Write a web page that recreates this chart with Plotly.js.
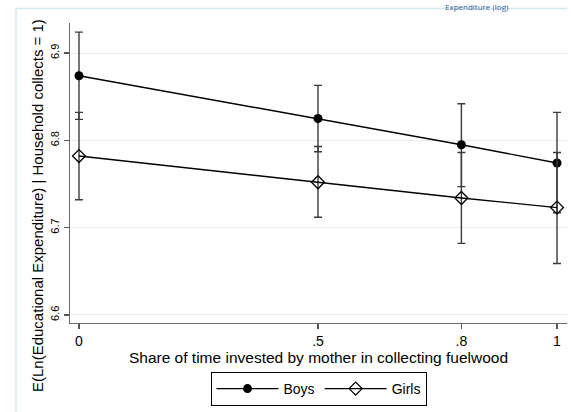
<!DOCTYPE html>
<html>
<head>
<meta charset="utf-8">
<script src="https://cdn.plot.ly/plotly-3.0.1.min.js"></script>
<style>html,body{margin:0;padding:0;background:#fff;}#chart{width:571px;height:412px;}</style>
</head>
<body>
<div id="chart"></div>
<script>
// Data
var shares = [0, 0.5, 0.8, 1];
var xTickLabels = ["0", ".5", ".8", "1"];
var yTickVals = [6.6, 6.7, 6.8, 6.9];
var yTickLabels = ["6.6", "6.7", "6.8", "6.9"];

var boysMean  = [6.874, 6.825, 6.795, 6.774];
var boysLower = [6.824, 6.787, 6.747, 6.717];
var boysUpper = [6.924, 6.863, 6.842, 6.832];

var girlsMean  = [6.782, 6.752, 6.734, 6.723];
var girlsLower = [6.732, 6.712, 6.682, 6.659];
var girlsUpper = [6.832, 6.793, 6.786, 6.786];

var seriesNames = ["Boys", "Girls"];
var yTitle = "E(Ln(Educational Expenditure) | Household collects = 1)";
var xTitle = "Share of time invested by mother in collecting fuelwood";
var topText = "Expenditure (log)";

function diff(a, b) { return a.map(function (v, i) { return v - b[i]; }); }

var FONT = "Liberation Sans, Arial, sans-serif";
var errStyle = {color: "#3a3a3a", thickness: 1.4, width: 4};

var traces = [
  {
    x: shares, y: boysMean, name: seriesNames[0], type: "scatter", mode: "lines+markers",
    line: {color: "#000", width: 1.4},
    marker: {symbol: "circle", size: 9, color: "#000"},
    error_y: Object.assign({type: "data", symmetric: false,
      array: diff(boysUpper, boysMean), arrayminus: diff(boysMean, boysLower)}, errStyle)
  },
  {
    x: shares, y: girlsMean, name: seriesNames[1], type: "scatter", mode: "lines+markers",
    line: {color: "#000", width: 1.4},
    marker: {symbol: "diamond-open", size: 10, color: "#000", line: {width: 1.3, color: "#000"}},
    error_y: Object.assign({type: "data", symmetric: false,
      array: diff(girlsUpper, girlsMean), arrayminus: diff(girlsMean, girlsLower)}, errStyle)
  }
];

var L = 70, R = 4, T = 23, B = 89, W = 571, H = 412;
var pw = W - L - R, ph = H - T - B;
function px2x(p) { return (p - L) / pw; }
function py2y(p) { return (H - B - p) / ph; }

var layout = {
  width: W, height: H,
  margin: {l: L, r: R, t: T, b: B, pad: 0},
  paper_bgcolor: "#fff", plot_bgcolor: "#fff",
  font: {family: FONT, color: "#000", size: 14},
  showlegend: true,
  xaxis: {
    range: [-0.0188, 1.0209],
    tickvals: shares, ticktext: xTickLabels,
    ticks: "outside", ticklen: 5, tickwidth: 1.2, tickcolor: "#555",
    showline: true, linecolor: "#6a6a6a", linewidth: 1.3,
    showgrid: false, zeroline: false,
    tickfont: {size: 14, family: FONT},
    title: {text: xTitle, font: {size: 15.5, family: FONT}, standoff: 1},
    automargin: false
  },
  yaxis: {
    range: [6.5908, 6.9344],
    tickvals: yTickVals, ticktext: yTickLabels,
    tickangle: -90,
    ticks: "outside", ticklen: 5, tickwidth: 1.2, tickcolor: "#555",
    showline: true, linecolor: "#6a6a6a", linewidth: 1.3,
    showgrid: true, gridcolor: "#e2edf3", gridwidth: 1,
    zeroline: false,
    tickfont: {size: 11, family: FONT},
    automargin: false
  },
  legend: {
    orientation: "h", x: 0.5, xanchor: "center", y: py2y(372), yanchor: "top",
    bordercolor: "#000", borderwidth: 1, bgcolor: "#fff",
    font: {size: 14, family: FONT}, itemwidth: 62, tracegroupgap: 0
  },
  annotations: [
    {text: yTitle, xref: "paper", yref: "paper", x: px2x(37), y: py2y(206),
     xanchor: "center", yanchor: "middle", textangle: -90, showarrow: false,
     font: {size: 15, family: FONT, color: "#000"}},
    {text: topText, xref: "paper", yref: "paper", x: px2x(510), y: py2y(0),
     xanchor: "right", yanchor: "top", showarrow: false, borderpad: 0,
     font: {size: 8, family: "Open Sans, sans-serif", color: "#2f5d9a"}}
  ],
  shapes: [
    {type: "line", xref: "paper", yref: "paper", x0: px2x(16), x1: px2x(567), y0: py2y(8.5), y1: py2y(8.5),
     line: {color: "#d5e6ee", width: 1.5}},
    {type: "line", xref: "paper", yref: "paper", x0: px2x(16), x1: px2x(16), y0: py2y(8.5), y1: py2y(412),
     line: {color: "#d5e6ee", width: 1.5}}
  ]
};

Plotly.newPlot("chart", traces, layout, {displayModeBar: false, staticPlot: true});
</script>
</body>
</html>
